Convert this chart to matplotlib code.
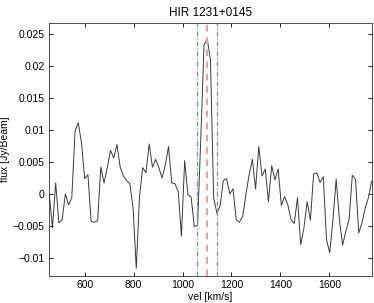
import numpy as np
import matplotlib
matplotlib.use('Agg')
from matplotlib import pyplot as plt
from matplotlib.ticker import FuncFormatter

plt.rcParams['font.family'] = ['Liberation Sans', 'DejaVu Sans']

# spectrum channels (km/s) and flux (Jy/Beam)
vel = np.linspace(455, 1773, 101)
flux = [0.0000, -0.0053, 0.0017, -0.0045, -0.0040, 0.0000, -0.0017, -0.0006, 0.0098, 0.0111,
        0.0080, 0.0024, 0.0030, -0.0043, -0.0044, -0.0042, 0.0042, 0.0017, 0.0041, 0.0068,
        0.0056, 0.0077, 0.0042, 0.0028, 0.0021, 0.0016, -0.0022, -0.0116, -0.0004, 0.0041,
        0.0033, 0.0078, 0.0042, 0.0054, 0.0041, 0.0025, 0.0045, 0.0074, 0.0017, 0.0016,
        0.0004, -0.0066, 0.0052, -0.0001, -0.0005, -0.0051, -0.0049, 0.0085, 0.0232, 0.0242,
        0.0209, -0.0006, -0.0030, -0.0019, 0.0021, 0.0024, 0.0000, 0.0008, -0.0040, -0.0044,
        -0.0035, -0.0001, 0.0030, 0.0054, 0.0008, 0.0074, 0.0028, 0.0039, -0.0012, 0.0044,
        0.0022, 0.0039, -0.0018, -0.0004, -0.0017, -0.0040, -0.0046, -0.0006, -0.0079, -0.0053,
        -0.0012, -0.0041, 0.0031, 0.0033, 0.0018, 0.0027, -0.0071, -0.0092, -0.0040, 0.0023,
        -0.0040, -0.0080, -0.0058, -0.0040, 0.0029, 0.0023, -0.0061, -0.0045, -0.0022, -0.0006,
        0.0020]

v_center = 1100
v_edges = [1060, 1140]

fig = plt.figure(figsize=(3.74, 3.03), dpi=100)
ax = fig.add_axes([0.131, 0.089, 0.864, 0.834])

ax.plot(vel, flux, color='#3a3a3a', lw=0.7)
ax.axvline(v_center, color='#ff9c9c', lw=1.6, ls=(0, (3, 2.5)))
for v in v_edges:
    ax.axvline(v, color='#6f86ff', lw=0.9, ls=(0, (4, 1.5, 1, 1.5)))

ax.set_xlim(454, 1775)
ax.set_ylim(-0.0128, 0.0266)
ax.set_xticks([600, 800, 1000, 1200, 1400, 1600])
ax.set_yticks([-0.01, -0.005, 0, 0.005, 0.01, 0.015, 0.02, 0.025])
ax.yaxis.set_major_formatter(FuncFormatter(lambda y, p: ('%g' % round(y, 4)).replace('-', '\u2212')))

ax.tick_params(direction='in', top=True, right=True, labelsize=7.5, length=3, width=0.6, pad=3)
for s in ax.spines.values():
    s.set_linewidth(0.6)
    s.set_color('#333333')

ax.set_xlabel('vel [km/s]', fontsize=7.5, labelpad=1)
ax.set_ylabel('flux [Jy/Beam]', fontsize=7.5, labelpad=2)
ax.set_title('HIR 1231+0145', fontsize=8.5, pad=5)

plt.savefig('out.png', dpi=100)
